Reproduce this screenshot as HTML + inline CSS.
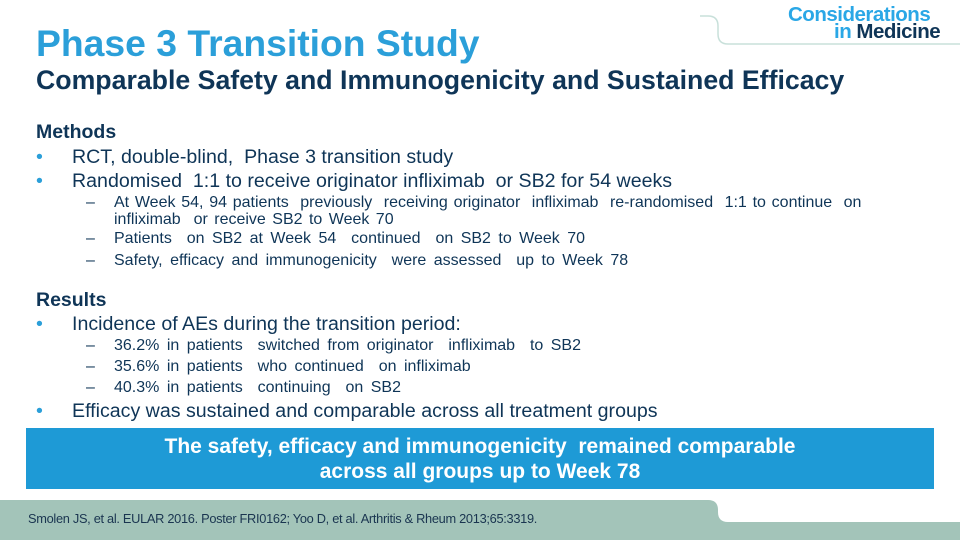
<!DOCTYPE html>
<html><head><meta charset="utf-8"><style>
body{margin:0;width:960px;height:540px;position:relative;overflow:hidden;background:#fff;font-family:"Liberation Sans",Arial,sans-serif}
.a{position:absolute;white-space:nowrap}
.t1{left:36px;top:22px;font-size:37.3px;font-weight:bold;color:#2b9fd9}
.t2{left:36px;top:65px;font-size:26.7px;font-weight:bold;color:#0f3557}
.h{left:36px;font-size:19.5px;font-weight:bold;color:#0f3557}
.b{left:72px;font-size:19.6px;color:#0f3557}
.b:before{content:"•";position:absolute;left:-36px;color:#2b9fd9}
.s{left:114px;font-size:16px;color:#0f3557;line-height:17px;word-spacing:3px}
.s:before{content:"–";position:absolute;left:-28px;word-spacing:0}
.c{left:114px;font-size:16px;color:#0f3557;line-height:17px;word-spacing:2px}
</style></head><body>
<svg class="a" style="left:0;top:0" width="960" height="540">
<path d="M700 16 H708 Q718 16 718 26 V34 Q718 44 728 44 H960" fill="none" stroke="#c8e0da" stroke-width="1.5"/>
<path d="M0 500 H708 Q718 500 718 510 V512 Q718 522 728 522 H960 V540 H0 Z" fill="#a3c4b9"/>
</svg>
<div class="a" style="left:788px;top:3px;font-size:20.5px;font-weight:bold;color:#2aa7e6;letter-spacing:-0.5px">Considerations</div>
<div class="a" style="left:834px;top:20px;font-size:20.5px;font-weight:bold;color:#0f3557;letter-spacing:-0.5px"><span style="color:#2aa7e6">in</span> Medicine</div>
<div class="a t1">Phase 3 Transition Study</div>
<div class="a t2">Comparable Safety and Immunogenicity and Sustained Efficacy</div>
<div class="a h" style="top:121px">Methods</div>
<div class="a b" style="top:146px">RCT, double-blind,&nbsp; Phase 3 transition study</div>
<div class="a b" style="top:170px">Randomised&nbsp; 1:1 to receive originator infliximab&nbsp; or SB2 for 54 weeks</div>
<div class="a s" style="top:194px;word-spacing:1.3px">At Week 54, 94 patients&nbsp; previously&nbsp; receiving originator&nbsp; infliximab&nbsp; re-randomised&nbsp; 1:1 to continue&nbsp; on</div>
<div class="a c" style="top:211px">infliximab&nbsp; or receive SB2 to Week 70</div>
<div class="a s" style="top:230px">Patients&nbsp; on SB2 at Week 54&nbsp; continued&nbsp; on SB2 to Week 70</div>
<div class="a s" style="top:252px">Safety, efficacy and immunogenicity&nbsp; were assessed&nbsp; up to Week 78</div>
<div class="a h" style="top:289px">Results</div>
<div class="a b" style="top:313px">Incidence of AEs during the transition period:</div>
<div class="a s" style="top:337px">36.2% in patients&nbsp; switched from originator&nbsp; infliximab&nbsp; to SB2</div>
<div class="a s" style="top:358px">35.6% in patients&nbsp; who continued&nbsp; on infliximab</div>
<div class="a s" style="top:379px">40.3% in patients&nbsp; continuing&nbsp; on SB2</div>
<div class="a b" style="top:400px">Efficacy was sustained and comparable across all treatment groups</div>
<div class="a" style="left:26px;top:428px;width:908px;height:61px;background:#1e9ad6;color:#fff;font-weight:bold;font-size:21px;text-align:center;line-height:25px;padding-top:6px;box-sizing:border-box">The safety, efficacy and immunogenicity&nbsp; remained comparable<br>across all groups up to Week 78</div>
<div class="a" style="left:28px;top:511px;font-size:12.8px;color:#1a3550;letter-spacing:-0.3px">Smolen JS, et al. EULAR 2016. Poster FRI0162; Yoo D, et al. Arthritis &amp; Rheum 2013;65:3319.</div>
</body></html>
